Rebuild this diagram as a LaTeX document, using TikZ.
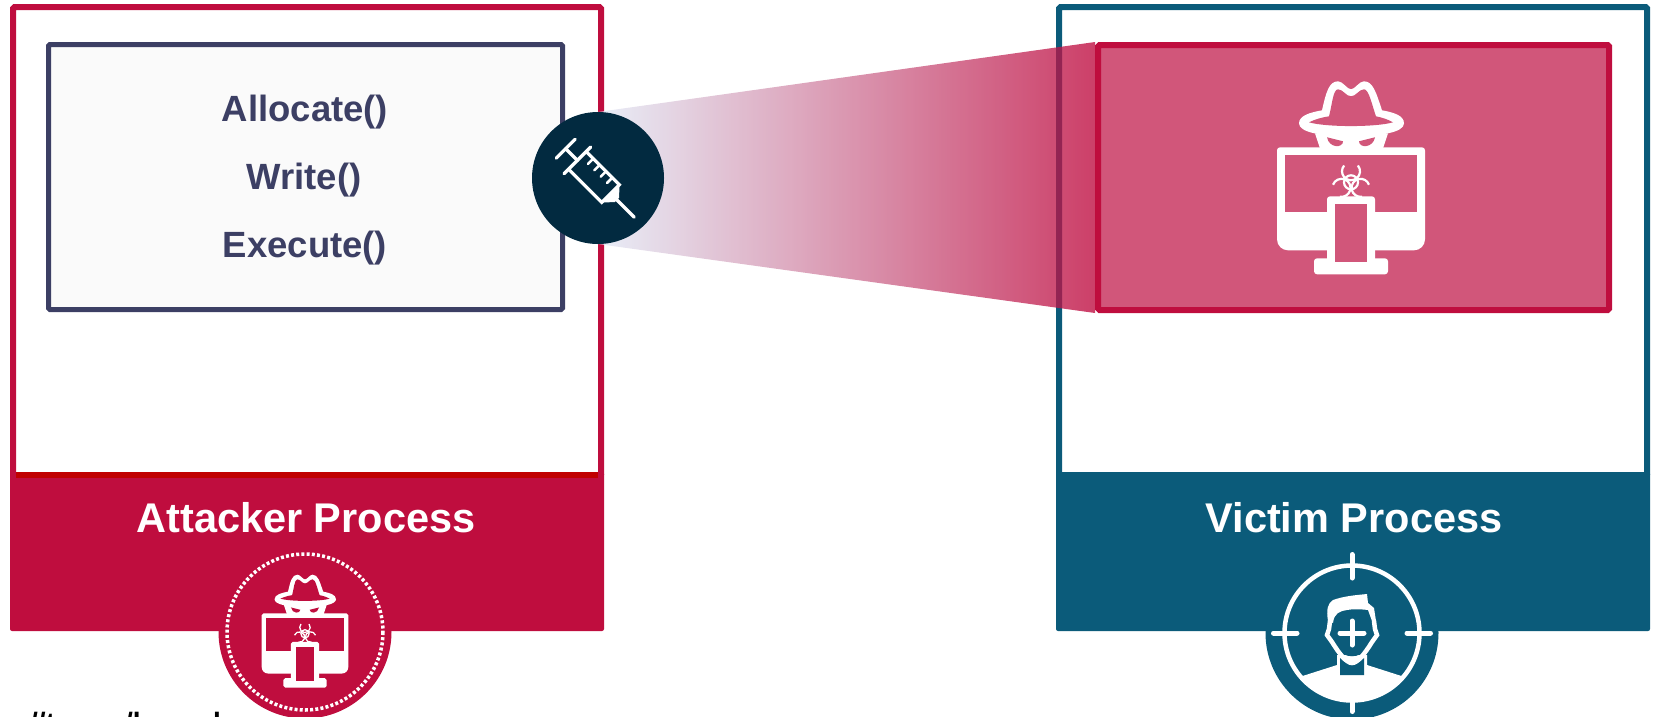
\documentclass[tikz,border=0pt]{standalone}
\usepackage{fontspec}
\setmainfont{Liberation Sans}
\definecolor{crimson}{HTML}{BF0D3E}
\definecolor{darkred}{HTML}{C00000}
\definecolor{teal}{HTML}{0B5B7A}
\definecolor{navy}{HTML}{3C3F64}
\definecolor{ink}{HTML}{022A40}
\definecolor{rose}{HTML}{D1567A}
\definecolor{paper}{HTML}{FAFAFA}
\definecolor{haze}{HTML}{E1E9F6}
\definecolor{blush}{HTML}{CF89AB}
\definecolor{beamend}{HTML}{BC0339}
\tikzset{
  frame/.style={draw=#1,line width=6pt,rounded corners=1.5pt,inner sep=0pt},
  band/.style={fill=#1,rounded corners=2pt,inner sep=0pt},
  badge/.style={circle,fill=#1,minimum size=173pt,inner sep=0pt},
  title/.style={text=white,font=\fontsize{41.5}{41.5}\selectfont\bfseries},
  call/.style={text=navy,font=\fontsize{36.5}{36.5}\selectfont\bfseries},
  cutoff/.style={anchor=north west,inner sep=0pt,font=\fontsize{28}{28}\selectfont\bfseries}
}
% #1 origin (top middle of the monitor), #2 scale, #3 colour behind the icon
\newcommand{\spyicon}[3]{
  \begin{scope}[shift={#1},scale=#2]
    % hat
    \fill[white] (-52,-24) .. controls (-52,-32) and (-40,-35) .. (-29,-37)
      .. controls (-25,-55) and (-22,-66) .. (-13,-66)
      .. controls (-8,-66) and (-4,-58) .. (0,-58)
      .. controls (4,-58) and (8,-66) .. (13,-66)
      .. controls (22,-66) and (25,-55) .. (31,-37)
      .. controls (42,-35) and (53,-32) .. (53,-24)
      .. controls (53,-15) and (30,-11) .. (0,-11)
      .. controls (-30,-11) and (-52,-15) .. (-52,-24) -- cycle;
    \fill[#3] (-42,-25) .. controls (-36,-28) and (-29,-30) .. (-22,-31)
      .. controls (-19,-42) and (-18,-58) .. (-13,-58)
      .. controls (-8,-58) and (-5,-51) .. (0,-51)
      .. controls (5,-51) and (8,-58) .. (13,-58)
      .. controls (18,-58) and (21,-42) .. (25,-31)
      .. controls (30,-30) and (37,-28) .. (42,-25)
      .. controls (25,-20) and (-25,-20) .. (-42,-25) -- cycle;
    % face and eyes
    \fill[white] (-36,-14) -- (-31,1) -- (32,1) -- (37,-14) -- cycle;
    \fill[#3] (-24,-10) -- (-8,-6) .. controls (-8,1) and (-22,1) .. (-24,-10) -- cycle;
    \fill[#3] (24,-10) -- (8,-6) .. controls (8,1) and (22,1) .. (24,-10) -- cycle;
    % monitor
    \fill[white,rounded corners=#2*3pt] (-74,50) -- (-74,0) -- (74,0) -- (74,50)
      [rounded corners=#2*11pt] -- (74,103) -- (-74,103) -- cycle;
    \fill[#3] (-66,8) rectangle (66,65);
    \fill[white] (-24,100) rectangle (24,112);
    \fill[white,rounded corners=#2*3pt] (-37,111) rectangle (37,127);
    \fill[white,rounded corners=#2*3pt] (-24,49) rectangle (24,115);
    \fill[#3] (-16,57) rectangle (16,115);
    % biohazard sign
    \foreach \a in {-90,30,150}
      \draw[white,line width=#2*2.2pt] (0,35) ++(\a:11) ++(\a+50:9)
        arc[start angle=\a+50,end angle=\a+310,radius=9];
    \draw[white,line width=#2*2.2pt] (0,35) circle (7);
  \end{scope}
}
\begin{document}
\begin{tikzpicture}[x=1pt,y=-1pt]
  \useasboundingbox (0,0) rectangle (1655,716);
  \clip (0,0) rectangle (1655,716);
  % attacker side
  \node[frame=crimson,minimum width=588pt,minimum height=468pt] (attacker) at (307,241) {};
  \node[band=crimson,minimum width=594pt,minimum height=159pt] (attackerband) at (307,551.5) {};
  \draw[darkred,line width=6pt] (16,475) -- (598,475);
  \node[frame=navy,line width=5pt,fill=paper,minimum width=514pt,minimum height=265pt] (code) at (305.5,177) {};
  \node[call] (allocate) at (305,112) {Allocate()};
  \node[call] (write) at (304,180) {Write()};
  \node[call] (execute) at (305,248) {Execute()};
  \node[title] (attackerlabel) at (306,518) {Attacker Process};
  \node[badge=crimson] (attackerbadge) at (305,632) {};
  \draw[white,line width=3.5pt,dash pattern=on 3pt off 2.2pt] (attackerbadge.center) circle (78);
  \spyicon{(305,613.3)}{0.585}{crimson}
  % victim side
  \node[frame=teal,minimum width=588pt,minimum height=468pt] (victim) at (1353,241) {};
  \node[band=teal,minimum width=594pt,minimum height=159pt] (victimband) at (1353,551.5) {};
  \node[title] (victimlabel) at (1354,518) {Victim Process};
  \node[badge=teal] (victimbadge) at (1352,633) {};
  \node[frame=crimson,fill=rose,minimum width=511pt,minimum height=265pt] (payload) at (1353.5,177.5) {};
  \spyicon{(1351,147.3)}{1}{rose}
  % injection beam, under the syringe disc
  \coordinate (beamtop) at (598,112);
  \coordinate (beambottom) at (598,244);
  \shade[left color=haze,middle color=blush,right color=beamend,fill opacity=.76] (beamtop) -- (payload.north west) -- (payload.south west) -- (beambottom) -- cycle;
  \node[circle,fill=ink,minimum size=132pt,inner sep=0pt] (inject) at (598,178) {};
  % syringe
  \begin{scope}[shift={(600,183)},rotate=-45,white,line width=3.2pt,line cap=round]
    \draw (-48.5,-13.5) -- (-48.5,13.5);
    \draw (-48.5,0) -- (-32,0);
    \draw (-32,-19) -- (-32,19);
    \draw (-32,-12.5) -- (15,-12.5) -- (15,12.5) -- (-32,12.5);
    \foreach \u in {-22,-13,-4,5}
      \draw[line width=2.6pt] (\u,-12.5) -- (\u,-5);
    \fill (15,-12.5) -- (24,-3) -- (24,3) -- (15,12.5) -- cycle;
    \draw (24,0) -- (48.5,0);
  \end{scope}
  % target on the victim badge
  \begin{scope}[shift={(victimbadge.center)},white]
    \fill (-51,43.5) -- (-15,32) -- (-15,22) -- (15,22) -- (15,32) -- (51,43.5)
      arc[start angle=40.5,end angle=139.5,radius=67] -- cycle;
    \fill[teal] (-12,25) .. controls (-5,33) and (5,33) .. (12,25) -- (12,42) -- (-12,42) -- cycle;
    \fill[teal] (-15,15) .. controls (-8,26) and (8,26) .. (15,15) -- (15,5) -- (-15,5) -- cycle;
    \draw[line width=4.5pt] (0,0) circle (67.5);
    \draw[line width=4.5pt,line cap=round] (-22,-12) -- (-23,-4) -- (-25,2) -- (-20,9)
      .. controls (-12,22) and (-5,30) .. (0,30) .. controls (5,30) and (12,22) .. (20,9)
      -- (25,2) -- (23,-4) -- (22,-12);
    \fill (-24,-12) .. controls (-26,-24) and (-24,-30) .. (-19,-33)
      .. controls (-8,-37) and (5,-38) .. (15,-39) -- (16,-30) -- (22,-25) -- (24,-12)
      -- (20,-12) -- (16,-23) .. controls (8,-24) and (0,-24) .. (-5,-23)
      .. controls (-12,-22) and (-18,-20) .. (-19,-10) -- cycle;
    \foreach \a in {0,90,180,270}
      \draw[rotate=\a,line width=5pt,line cap=round] (0,-78.5) -- (0,-55);
    \draw[line width=5pt,line cap=round] (-12,0) -- (12,0) (0,-12) -- (0,12);
  \end{scope}
  % text cut by the lower edge
  \node[cutoff] (cutfirst) at (30,712) {//t};
  \node[cutoff] (cutsecond) at (125,712) {/l};
  \node[cutoff] (cutthird) at (213,712) {l};
\end{tikzpicture}
\end{document}
